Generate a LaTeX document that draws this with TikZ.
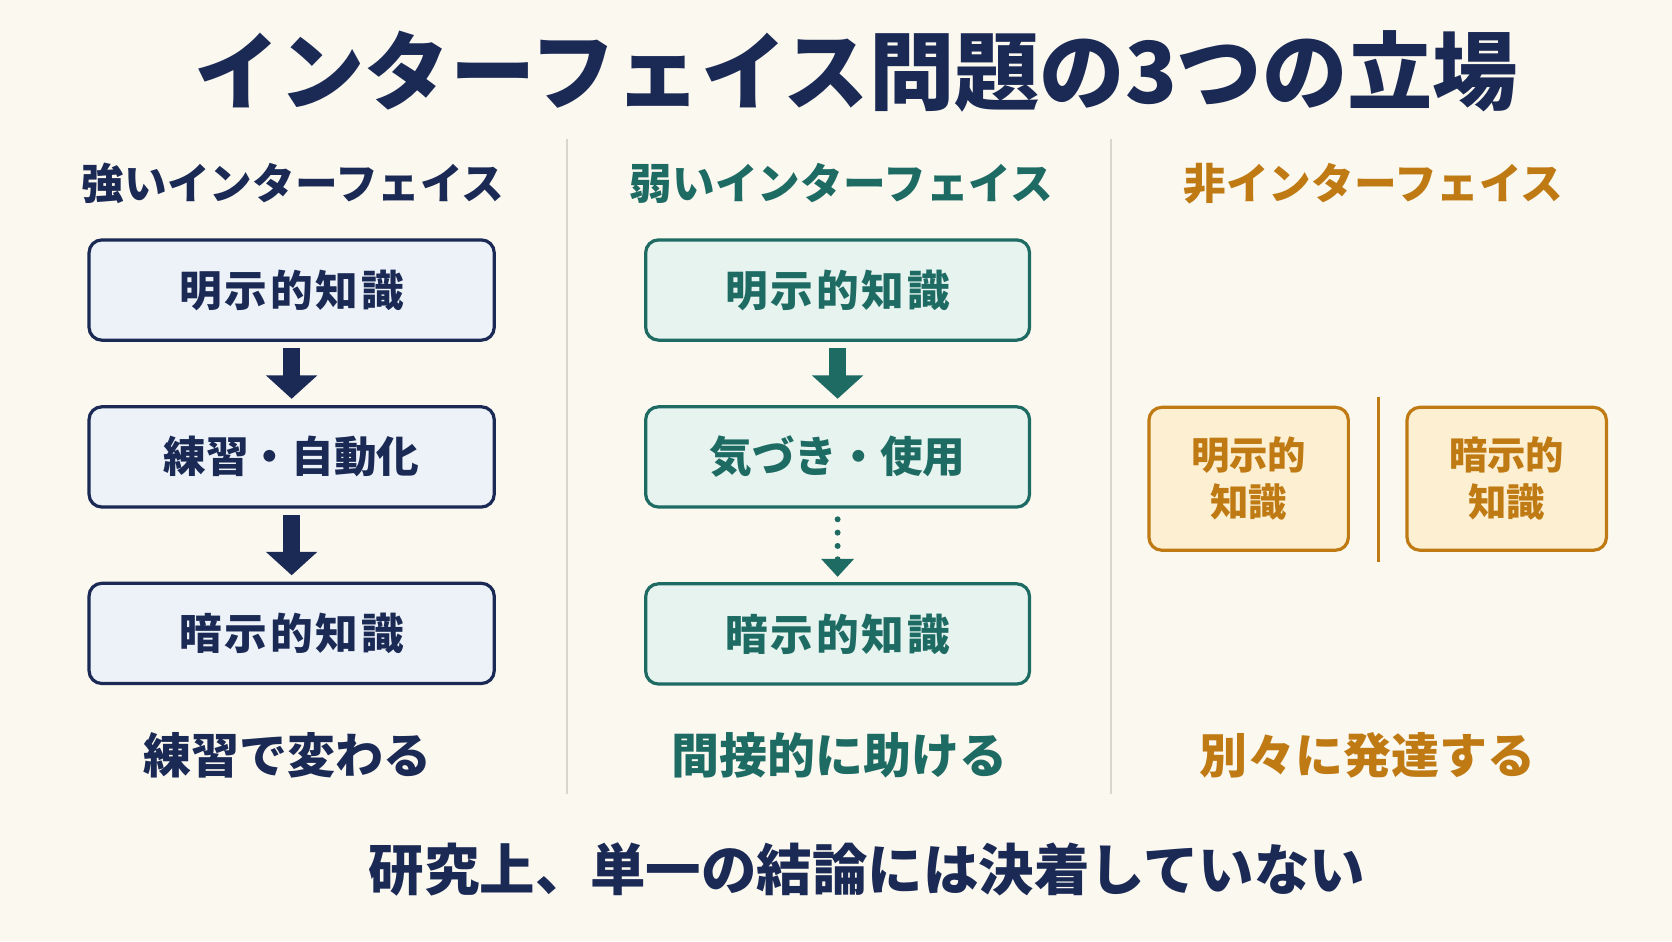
\documentclass[tikz,border=0pt]{standalone}
\usepackage{fontspec}
\setmainfont{Noto Sans CJK JP}
\newfontfamily\titlefont{Noto Sans CJK JP Black}
\newfontfamily\spacedfont{Noto Sans CJK JP}[LetterSpace=7]
\usetikzlibrary{arrows.meta}

\definecolor{paper}{HTML}{FBF8F0}
\definecolor{navy}{HTML}{1A2A55}
\definecolor{navyfill}{HTML}{EDF2F9}
\definecolor{teal}{HTML}{1D6B63}
\definecolor{tealfill}{HTML}{E6F3EF}
\definecolor{amber}{HTML}{BF7A14}
\definecolor{amberfill}{HTML}{FDF0D2}
\definecolor{rule}{HTML}{D9D6CD}

\begin{document}
\begin{tikzpicture}[x=1pt,y=-1pt,
	box/.style={draw, line width=3pt, rounded corners=12pt, font=\bfseries\fontsize{40}{48}\selectfont},
	spaced/.style={font=\spacedfont\bfseries\fontsize{40}{48}\selectfont},
	strongbox/.style={box, draw=navy, fill=navyfill, text=navy, minimum width=380pt, minimum height=94pt},
	weakbox/.style={box, draw=teal, fill=tealfill, text=teal, minimum width=360pt, minimum height=94pt},
	nonbox/.style={box, draw=amber, fill=amberfill, text=amber, minimum width=187pt, minimum height=134pt, align=center, font=\bfseries\fontsize{36}{44}\selectfont},
	head/.style={font=\bfseries\fontsize{40}{48}\selectfont},
	foot/.style={font=\bfseries\fontsize{45}{54}\selectfont},
	bigarrow/.style={line width=16pt, -{Triangle[width=47pt,length=22pt]}, shorten <=6pt, shorten >=6pt},
	dotarrow/.style={line width=5.6pt, line cap=round, dash pattern=on 0pt off 12.5pt, -{Triangle[width=30pt,length=17pt]}, shorten <=10pt, shorten >=5pt}]
	\fill[paper] (0,0) rectangle (1568,882.5);
	\useasboundingbox (0,0) rectangle (1568,882.5);
	% title and dividers
	\node[navy, font=\titlefont\fontsize{80}{92}\selectfont] (title) at (803,67) {インターフェイス問題の3つの立場};
	\foreach \x/\name in {532/d1,1042/d2}
	\draw[rule, line width=2pt] (\x,130) coordinate (\name top) -- (\x,745) coordinate (\name bot);
	% strong interface
	\node[head, navy] (shead) at (275,172) {強いインターフェイス};
	\node[strongbox, spaced] (s1) at (273.5,272) {明示的知識};
	\node[strongbox] (s2) at (273.5,428.5) {練習・自動化};
	\node[strongbox, spaced] (s3) at (273.5,594) {暗示的知識};
	\draw[bigarrow, navy] (s1) -- (s2);
	\draw[bigarrow, navy] (s2) -- (s3);
	\node[foot, navy] (sfoot) at (270,708) {練習で変わる};
	% weak interface
	\node[head, teal] (whead) at (789,172) {弱いインターフェイス};
	\node[weakbox, spaced] (w1) at (785.5,272) {明示的知識};
	\node[weakbox] (w2) at (785.5,428.5) {気づき・使用};
	\node[weakbox, spaced] (w3) at (785.5,594.5) {暗示的知識};
	\draw[bigarrow, teal] (w1) -- (w2);
	\draw[dotarrow, teal] (w2) -- (w3);
	\node[foot, teal] (wfoot) at (787,708) {間接的に助ける};
	% non-interface
	\node[head, amber] (nhead) at (1288,172) {非インターフェイス};
	\node[nonbox] (n1) at (1171,449) {明示的\\知識};
	\node[nonbox] (n2) at (1413,449) {暗示的\\知識};
	\draw[amber, line width=3pt] (1293,372) coordinate (sep top) -- (1293,527) coordinate (sep bot);
	\node[foot, amber] (nfoot) at (1282,708) {別々に発達する};
	% conclusion
	\node[navy, font=\bfseries\fontsize{52}{62}\selectfont] (note) at (813,815) {研究上、単一の結論には決着していない};
\end{tikzpicture}
\end{document}
